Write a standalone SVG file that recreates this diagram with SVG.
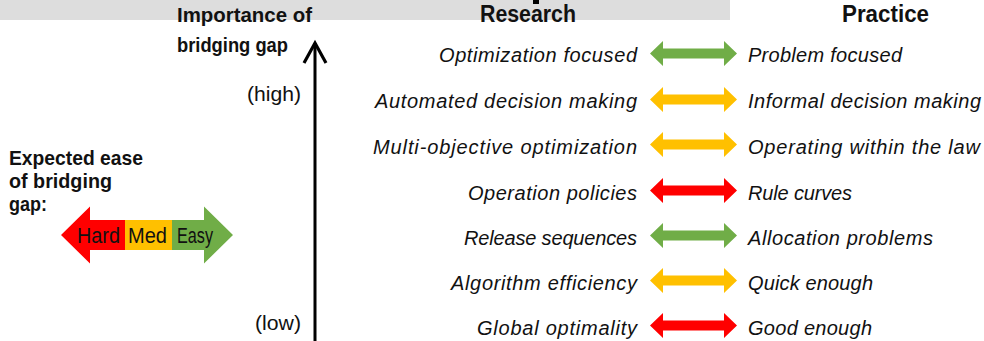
<svg xmlns="http://www.w3.org/2000/svg" xmlns:xlink="http://www.w3.org/1999/xlink" width="984" height="341" viewBox="0 0 984 341">
<style>
  text { font-family: "Liberation Sans", Arial, sans-serif; fill: #111; }
  .head { font-weight: bold; font-size: 23px; }
  .bold { font-weight: bold; font-size: 21px; }
  .lab { font-style: italic; font-size: 20px; }
  .reg { font-size: 20px; }
  .leg { font-size: 22px; }
  .green { fill: #70AD47; }
  .gold { fill: #FFC000; }
  .red { fill: #FF0000; }
</style>
<defs>
  <path id="dbl" d="M650,0 L663,-12.5 L663,-5 L724,-5 L724,-12.5 L737,0 L724,12.5 L724,5 L663,5 L663,12.5 Z"/>
</defs>
<rect x="0" y="0" width="730" height="20" fill="#DDDDDD"/>
<rect x="533" y="0" width="6" height="4" fill="#000"/>

<g id="title-importance">
  <text class="bold" x="177" y="22" textLength="135" lengthAdjust="spacingAndGlyphs">Importance of</text>
  <text class="bold" x="177" y="52" textLength="111" lengthAdjust="spacingAndGlyphs">bridging gap</text>
</g>
<g id="title-research"><text class="head" x="480" y="22" textLength="96" lengthAdjust="spacingAndGlyphs">Research</text></g>
<g id="title-practice"><text class="head" x="842" y="22" textLength="87" lengthAdjust="spacingAndGlyphs">Practice</text></g>

<g id="axis">
  <text class="reg" x="247" y="101" textLength="54" lengthAdjust="spacingAndGlyphs">(high)</text>
  <text class="reg" x="255" y="330" textLength="46" lengthAdjust="spacingAndGlyphs">(low)</text>
</g>

<g id="legend">
  <text class="bold" x="9" y="165" textLength="134" lengthAdjust="spacingAndGlyphs">Expected ease</text>
  <text class="bold" x="9" y="188" textLength="103" lengthAdjust="spacingAndGlyphs">of bridging</text>
  <text class="bold" x="9" y="211" textLength="38" lengthAdjust="spacingAndGlyphs">gap:</text>
  <path class="red" d="M61,235 L90,206.5 L90,220 L125.5,220 L125.5,250 L90,250 L90,263.5 Z"/>
  <rect class="gold" x="125" y="220" width="47.5" height="30"/>
  <path class="green" d="M172,220 L204,220 L204,206.5 L233,235 L204,263.5 L204,250 L172,250 Z"/>
  <text class="leg" x="77" y="243" textLength="43" lengthAdjust="spacingAndGlyphs">Hard</text>
  <text class="leg" x="128" y="243" textLength="39" lengthAdjust="spacingAndGlyphs">Med</text>
  <text class="leg" x="177" y="243" textLength="36" lengthAdjust="spacingAndGlyphs">Easy</text>
</g>

<g id="row1">
  <text class="lab" x="439" y="62" textLength="198">Optimization focused</text>
  <text class="lab" x="748" y="62" textLength="154">Problem focused</text>
</g>
<g id="row2">
  <text class="lab" x="375" y="108" textLength="262">Automated decision making</text>
  <text class="lab" x="748" y="108" textLength="233">Informal decision making</text>
</g>
<g id="row3">
  <text class="lab" x="373" y="154" textLength="264">Multi-objective optimization</text>
  <text class="lab" x="748" y="154" textLength="232">Operating within the law</text>
</g>
<g id="row4">
  <text class="lab" x="468" y="200" textLength="169">Operation policies</text>
  <text class="lab" x="748" y="200" textLength="104">Rule curves</text>
</g>
<g id="row5">
  <text class="lab" x="464" y="245" textLength="173">Release sequences</text>
  <text class="lab" x="748" y="245" textLength="185">Allocation problems</text>
</g>
<g id="row6">
  <text class="lab" x="451" y="290" textLength="186">Algorithm efficiency</text>
  <text class="lab" x="748" y="290" textLength="125">Quick enough</text>
</g>
<g id="row7">
  <text class="lab" x="477" y="335" textLength="160">Global optimality</text>
  <text class="lab" x="748" y="335" textLength="124">Good enough</text>
</g>

<g id="connectors">
  <line x1="315" y1="43" x2="315" y2="341" stroke="#000" stroke-width="3"/>
  <polyline points="304,63 315,43 326,63" fill="none" stroke="#000" stroke-width="3.2"/>
  <use xlink:href="#dbl" href="#dbl" class="green" transform="translate(0,53.5)"/>
  <use xlink:href="#dbl" href="#dbl" class="gold" transform="translate(0,99.5)"/>
  <use xlink:href="#dbl" href="#dbl" class="gold" transform="translate(0,144.5)"/>
  <use xlink:href="#dbl" href="#dbl" class="red" transform="translate(0,190.5)"/>
  <use xlink:href="#dbl" href="#dbl" class="green" transform="translate(0,235.5)"/>
  <use xlink:href="#dbl" href="#dbl" class="gold" transform="translate(0,280.5)"/>
  <use xlink:href="#dbl" href="#dbl" class="red" transform="translate(0,325.5)"/>
</g>
</svg>
